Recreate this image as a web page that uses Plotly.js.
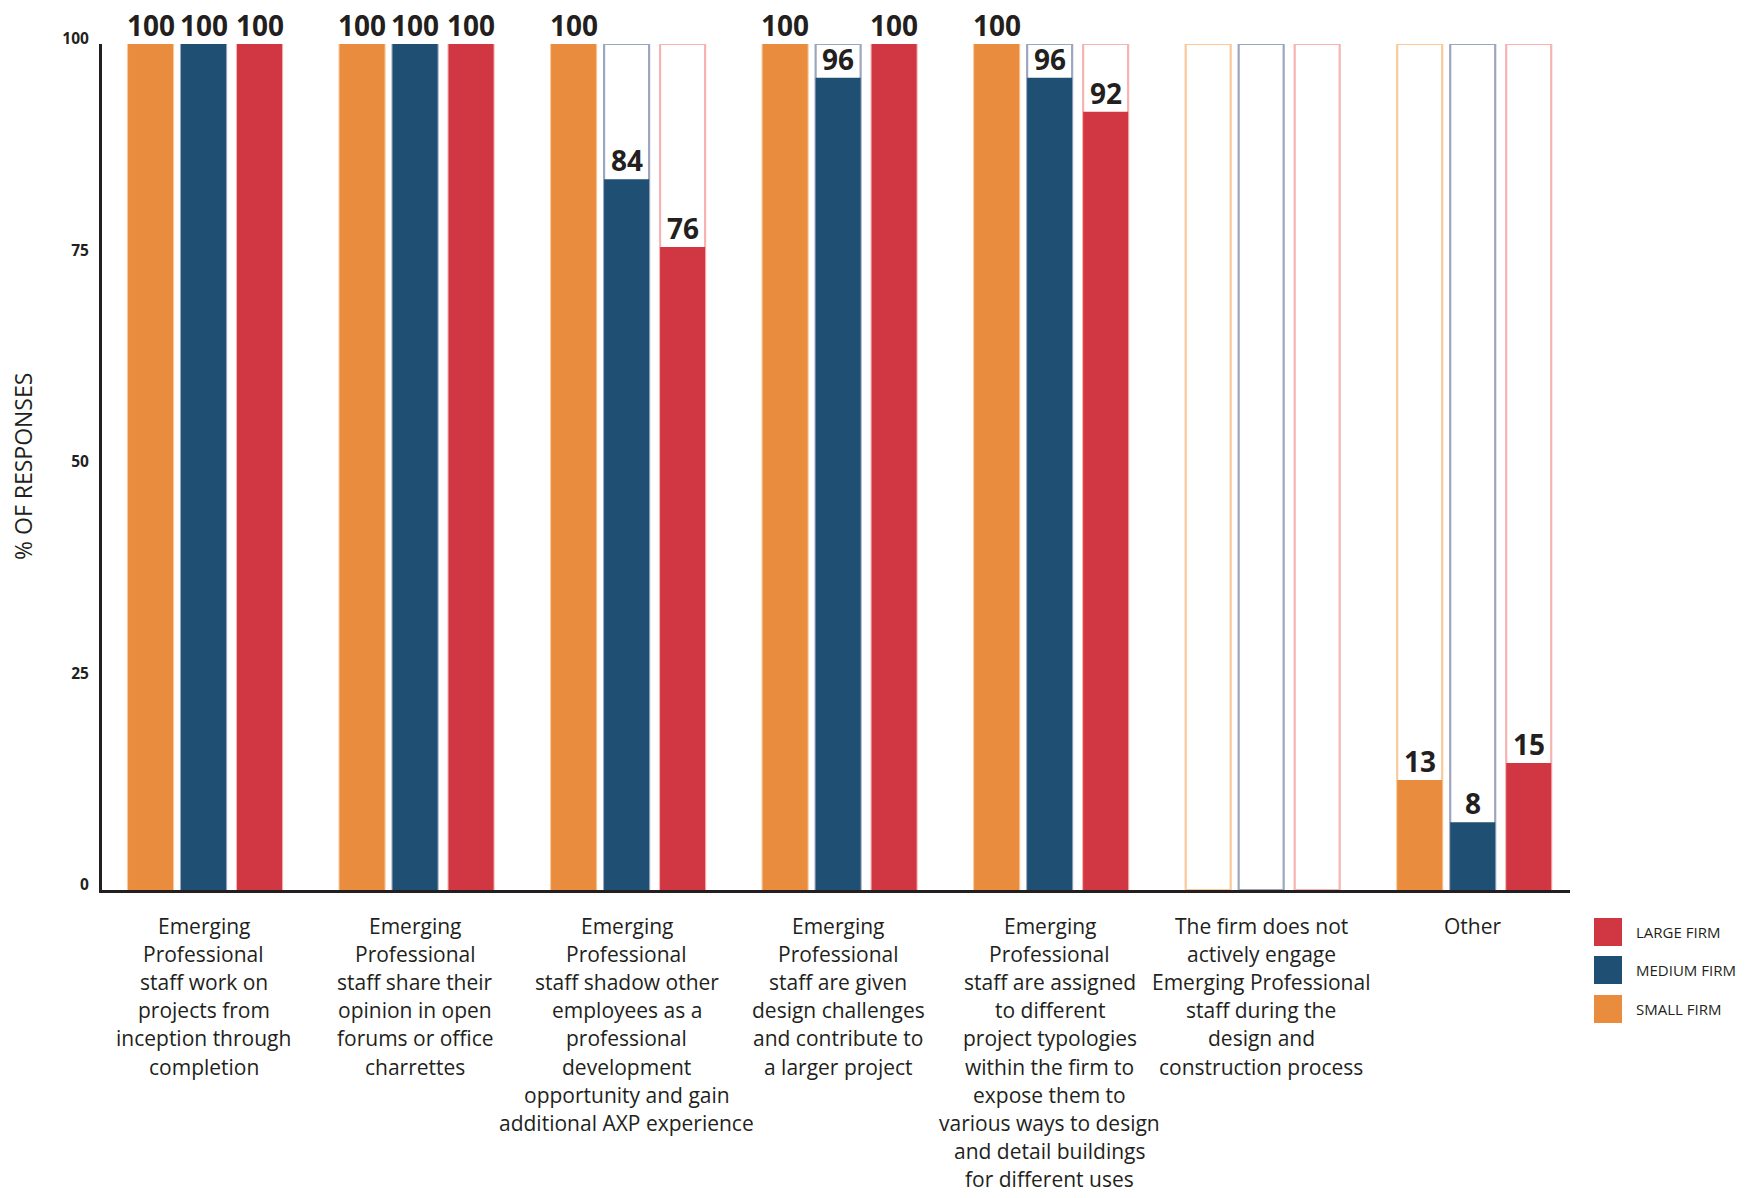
<!DOCTYPE html>
<html>
<head>
<meta charset="utf-8">
<script src="https://cdn.plot.ly/plotly-3.0.1.min.js"></script>
<style>html,body{margin:0;padding:0;background:#fff;}#chart{width:1762px;height:1198px;}</style>
</head>
<body>
<div id="chart"></div>
<script>
// ---------- DATA ----------
const categories = [
  "Emerging<br>Professional<br>staff work on<br>projects from<br>inception through<br>completion",
  "Emerging<br>Professional<br>staff share their<br>opinion in open<br>forums or office<br>charrettes",
  "Emerging<br>Professional<br>staff shadow other<br>employees as a<br>professional<br>development<br>opportunity and gain<br>additional AXP experience",
  "Emerging<br>Professional<br>staff are given<br>design challenges<br>and contribute to<br>a larger project",
  "Emerging<br>Professional<br>staff are assigned<br>to different<br>project typologies<br>within the firm to<br>expose them to<br>various ways to design<br>and detail buildings<br>for different uses",
  "The firm does not<br>actively engage<br>Emerging Professional<br>staff during the<br>design and<br>construction process",
  "Other"
];
const smallFirm  = [100, 100, 100, 100, 100, 0, 13];
const mediumFirm = [100, 100, 84, 96, 96, 0, 8];
const largeFirm  = [100, 100, 76, 100, 92, 0, 15];
const seriesNames = ["SMALL FIRM", "MEDIUM FIRM", "LARGE FIRM"];
const yTicks = [0, 25, 50, 75, 100];
const yTitle = "% OF RESPONSES";
const fullScale = 100;

// ---------- STYLE ----------
const W = 1762, H = 1198;
const mL = 102, mR = 192, mT = 44, mB = 308;
const plotW = W - mL - mR, plotH = H - mT - mB;
const xRange = [-0.48, 6.46];
const pitch = plotW / (xRange[1] - xRange[0]);
const barWpx = 45;
const centerPx = [-53, 0, 56];
const fills = ["#E98C3D", "#1F4F72", "#D03742"];
const outlines = ["#F9C99C", "#9CA6BF", "#F6B3B0"];
const ink = "#231f20";
const FONT = "Open Sans, Noto Sans, sans-serif";

const series = [smallFirm, mediumFirm, largeFirm];
const bw = barWpx / pitch;

const traces = [];
// outline (100% frame) bars
series.forEach((s, k) => {
  traces.push({
    type: "bar", x: categories, y: categories.map(() => fullScale),
    width: bw, offset: centerPx[k] / pitch - bw / 2,
    marker: {color: "#ffffff", line: {color: outlines[k], width: 2.2}},
    showlegend: false, hoverinfo: "skip"
  });
});
// value bars
series.forEach((s, k) => {
  traces.push({
    type: "bar", x: categories, y: s, name: seriesNames[k],
    width: bw, offset: centerPx[k] / pitch - bw / 2,
    marker: {color: fills[k], line: {width: 0}},
    showlegend: false
  });
});

const annotations = [];
// value labels
series.forEach((s, k) => {
  s.forEach((v, i) => {
    if (v === 0) return;
    annotations.push({
      xref: "x", yref: "y", x: categories[i], y: v,
      xshift: centerPx[k], yshift: -2,
      yanchor: "bottom", xanchor: "center", showarrow: false,
      text: String(v),
      font: {family: FONT, size: 28, color: ink, weight: 700}
    });
  });
});
// category labels, one annotation per line
const firstLinePx = 35.6, lineStep = 28.2;
categories.forEach((c, i) => {
  c.split("<br>").forEach((line, j) => {
    annotations.push({
      xref: "x", yref: "paper", x: c, y: 0,
      yshift: -(firstLinePx + j * lineStep),
      xanchor: "center", yanchor: "middle", showarrow: false,
      text: line, font: {family: FONT, size: 21, color: ink}
    });
  });
});
// y title
annotations.push({
  xref: "paper", yref: "paper", x: (23 - mL) / plotW, y: 0.5,
  xanchor: "center", yanchor: "middle", textangle: -90, showarrow: false,
  text: yTitle, font: {family: FONT, size: 23, color: ink}
});

// legend (custom)
const px2x = px => (px - mL) / plotW;
const py2y = py => (mT + plotH - py) / plotH;
const shapes = [];
const legendOrder = [2, 1, 0];
const legTop = [918, 956, 995];
legendOrder.forEach((k, r) => {
  shapes.push({
    type: "rect", xref: "paper", yref: "paper",
    x0: px2x(1594), x1: px2x(1622), y0: py2y(legTop[r] + 28), y1: py2y(legTop[r]),
    fillcolor: fills[k], line: {width: 0}
  });
  annotations.push({
    xref: "paper", yref: "paper", x: px2x(1634), y: py2y(legTop[r] + 14),
    xanchor: "left", yanchor: "middle", showarrow: false,
    text: seriesNames[k], font: {family: FONT, size: 15, color: ink}
  });
});

const layout = {
  width: W, height: H,
  margin: {l: mL, r: mR, t: mT, b: mB, pad: 0},
  paper_bgcolor: "#ffffff", plot_bgcolor: "#ffffff",
  barmode: "overlay",
  showlegend: false,
  xaxis: {
    type: "category", range: xRange, showticklabels: false, ticks: "",
    showgrid: false, zeroline: false,
    showline: true, linecolor: ink, linewidth: 3, fixedrange: true
  },
  yaxis: {
    range: [0, fullScale], tickvals: yTicks, ticktext: yTicks.map(String),
    ticks: "", showgrid: false, zeroline: false,
    showline: true, linecolor: ink, linewidth: 3,
    tickfont: {family: FONT, size: 15.5, color: ink, weight: 700},
    ticklabelshift: -5, ticklabelstandoff: 7, fixedrange: true
  },
  annotations: annotations,
  shapes: shapes
};

Plotly.newPlot("chart", traces, layout, {displayModeBar: false, staticPlot: true});
</script>
</body>
</html>
